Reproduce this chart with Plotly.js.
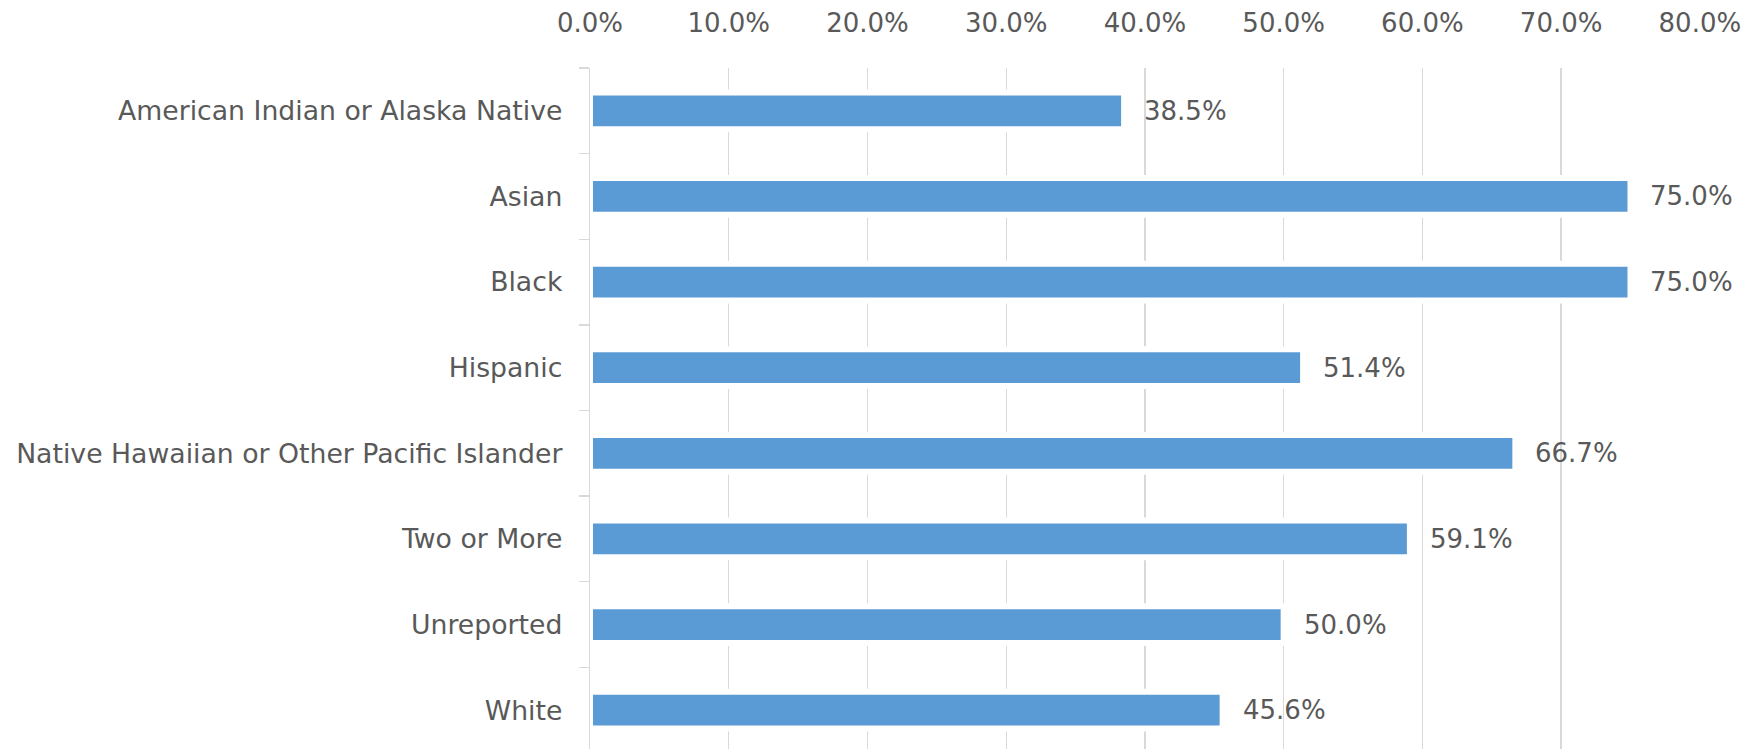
<!DOCTYPE html>
<html>
<head>
<meta charset="utf-8">
<script src="https://cdn.plot.ly/plotly-3.0.1.min.js"></script>
<style>
html, body { margin: 0; padding: 0; overflow: hidden; background: #ffffff; }
#chart { width: 1761px; height: 753px; }
</style>
</head>
<body>
<div id="chart"></div>
<script>
const categories = [
  "American Indian or Alaska Native",
  "Asian",
  "Black",
  "Hispanic",
  "Native Hawaiian or Other Pacific Islander",
  "Two or More",
  "Unreported",
  "White"
];
const values = [0.385, 0.750, 0.750, 0.514, 0.667, 0.591, 0.500, 0.456];
const tickValues = [0, 0.1, 0.2, 0.3, 0.4, 0.5, 0.6, 0.7, 0.8];
const tickLabels = ["0.0%", "10.0%", "20.0%", "30.0%", "40.0%", "50.0%", "60.0%", "70.0%", "80.0%"];

const textColor = "#595959";
const fontFamily = "'DejaVu Sans', 'Open Sans', sans-serif";
const fontSize = 26;

const trace = {
  type: "bar",
  orientation: "h",
  x: values,
  y: categories,
  marker: { color: "#5B9BD5", line: { color: "#ffffff", width: 6 } },
  hoverinfo: "none"
};

const annotations = values.map((v, i) => ({
  x: v,
  y: categories[i],
  xref: "x",
  yref: "y",
  text: (v * 100).toFixed(1) + "%",
  showarrow: false,
  xanchor: "left",
  yanchor: "middle",
  xshift: 18,
  font: { family: fontFamily, size: fontSize, color: textColor }
}));

const layout = {
  width: 1761,
  height: 753,
  margin: { l: 590, r: 61, t: 68, b: 0, pad: 0 },
  paper_bgcolor: "#ffffff",
  plot_bgcolor: "#ffffff",
  showlegend: false,
  bargap: 0.57,
  font: { family: fontFamily, size: fontSize, color: textColor },
  xaxis: {
    side: "top",
    range: [0, 0.8001],
    tickvals: tickValues,
    ticktext: tickLabels,
    showgrid: true,
    gridcolor: "#d9d9d9",
    gridwidth: 1.3,
    zeroline: false,
    showline: false,
    ticks: "",
    ticklabelstandoff: 30,
    tickfont: { family: fontFamily, size: fontSize, color: textColor },
    fixedrange: true
  },
  yaxis: {
    autorange: "reversed",
    type: "category",
    showline: true,
    linecolor: "#d9d9d9",
    linewidth: 1.3,
    showgrid: false,
    zeroline: false,
    ticks: "outside",
    tickson: "boundaries",
    ticklen: 10,
    tickcolor: "#d9d9d9",
    tickwidth: 1.3,
    ticklabelstandoff: 21,
    tickfont: { family: fontFamily, size: 26.7, color: textColor },
    fixedrange: true
  },
  annotations: annotations
};

Plotly.newPlot("chart", [trace], layout, { displayModeBar: false, staticPlot: true });
</script>
</body>
</html>
